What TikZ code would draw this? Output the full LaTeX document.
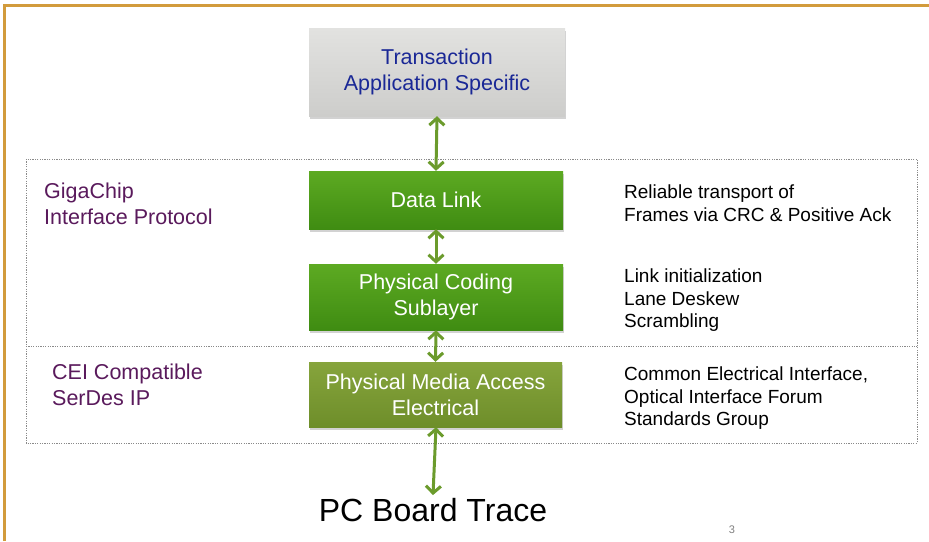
\documentclass[tikz,border=0pt]{standalone}
\usepackage{fontspec}
\setmainfont{Liberation Sans}
\usetikzlibrary{arrows.meta,shadows}
\definecolor{frameC}{HTML}{D29B3C}
\definecolor{grayTop}{HTML}{E2E2E0}
\definecolor{grayBot}{HTML}{CDCDCB}
\definecolor{greenTop}{HTML}{5DAA22}
\definecolor{greenBot}{HTML}{3F8C12}
\definecolor{oliveTop}{HTML}{86A43C}
\definecolor{oliveBot}{HTML}{6E8E2A}
\definecolor{arrowC}{HTML}{6B9B2C}
\definecolor{blueT}{HTML}{1A2896}
\definecolor{purpleT}{HTML}{5A1A5C}
\definecolor{dotC}{HTML}{8A8A8A}
\begin{document}
\begin{tikzpicture}[x=1pt,y=-1pt,
  layerbox/.style={rectangle, minimum width=254pt, inner sep=0pt, align=center,
     text=white, font=\fontsize{21.5}{26}\selectfont,
     drop shadow={opacity=0.35, shadow xshift=1pt, shadow yshift=-2.5pt}},
  greenbox/.style={layerbox, top color=greenTop, bottom color=greenBot},
  olivebox/.style={layerbox, top color=oliveTop, bottom color=oliveBot},
  graybox/.style={layerbox, top color=grayTop, bottom color=grayBot, text=blueT},
  biarrow/.style={draw=arrowC, line width=3pt,
     {Straight Barb[length=7pt,width=15pt]}-{Straight Barb[length=7pt,width=15pt]}},
  leftlab/.style={anchor=north west, align=left, text=purpleT, inner sep=0pt,
     font=\fontsize{21.5}{26}\selectfont},
  rightlab/.style={anchor=north west, align=left, text=black, inner sep=0pt,
     font=\fontsize{19}{22.3}\selectfont},
  dotline/.style={draw=dotC, line width=1pt, dash pattern=on 1.2pt off 1.2pt}
]
\useasboundingbox (0,0) rectangle (929,541);
\fill[white] (0,0) rectangle (929,541);
% frame
\draw[frameC, line width=3pt] (4.5,541) -- (4.5,5) -- (929,5);
% dotted group rectangle
\draw[dotline] (26,159) rectangle (917,443);
\draw[dotline] (26,346) -- (917,346);
% boxes
\node[graybox, minimum width=256pt, minimum height=88pt] (trans) at (437,72)
  {Transaction\\Application Specific};
\node[greenbox, minimum height=58pt] (dl) at (436,200) {Data Link};
\node[greenbox, minimum height=66pt] (pcs) at (436,297) {Physical Coding\\Sublayer};
\node[olivebox, minimum width=253pt, minimum height=65pt] (pma) at (435.5,394.5)
  {Physical Media Access\\Electrical};
\node[inner sep=3pt, font=\fontsize{32}{38}\selectfont] (pcb) at (433,510) {PC Board Trace};
% arrows
\draw[biarrow] (trans.south) -- (dl.north);
\draw[biarrow] (dl.south) -- (pcs.north);
\draw[biarrow] (pcs.south) -- (pma.north);
\draw[biarrow] ([xshift=0.5pt]pma.south) -- (pcb.north);
% left labels
\node[leftlab] (gig) at (44,183) {GigaChip\\Interface Protocol};
\node[leftlab] (cei) at (52,364) {CEI Compatible\\SerDes IP};
% right labels
\node[rightlab] (r1) at (624,185) {Reliable transport of\\Frames via CRC \& Positive Ack};
\node[rightlab] (r2) at (624,269) {Link initialization\\Lane Deskew\\Scrambling};
\node[rightlab] (r3) at (624,367) {Common Electrical Interface,\\Optical Interface Forum\\Standards Group};
% page number
\node[text=gray, font=\fontsize{11}{12}\selectfont] (pg) at (732,530) {3};
\end{tikzpicture}
\end{document}
